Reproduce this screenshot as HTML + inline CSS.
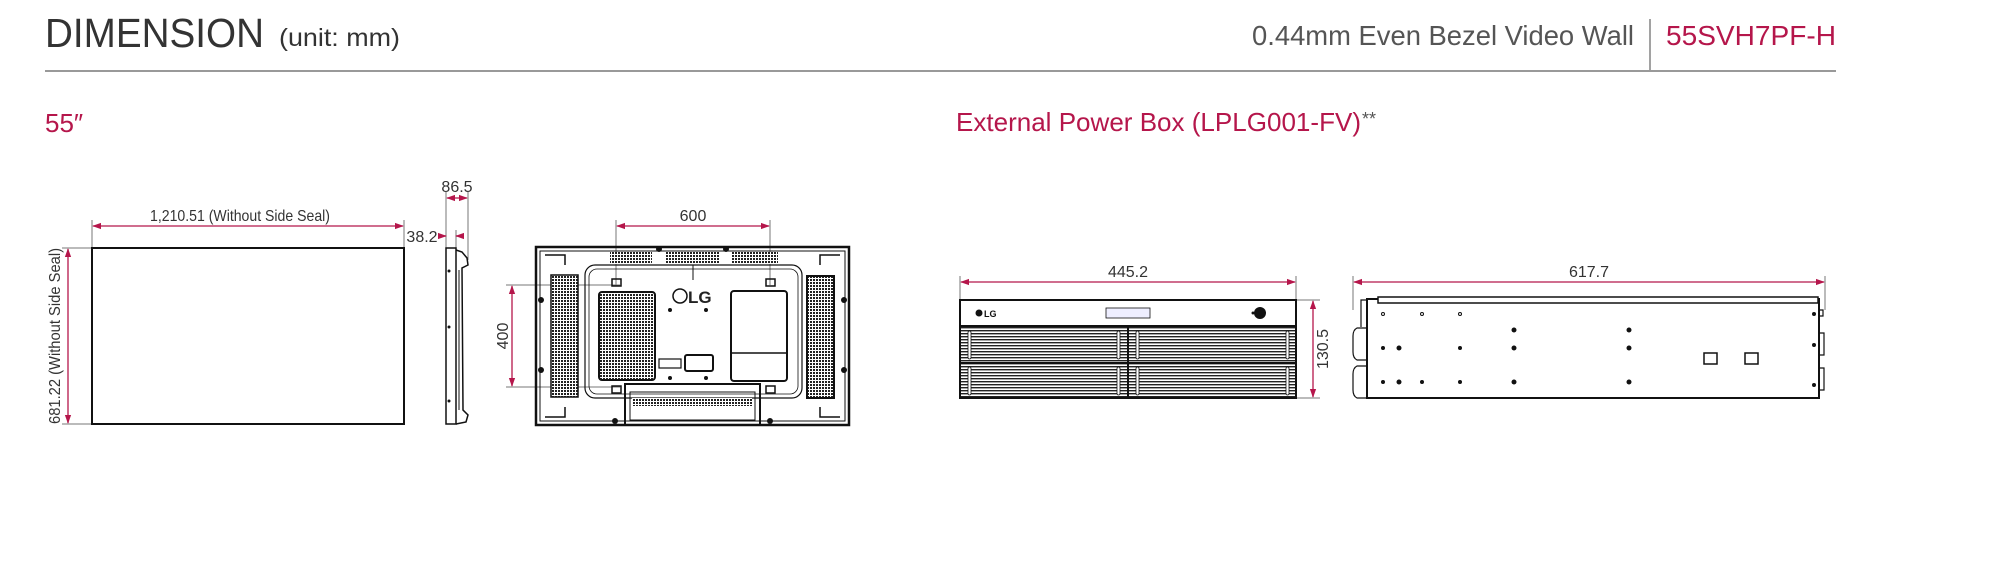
<!DOCTYPE html>
<html><head><meta charset="utf-8"><style>
html,body{margin:0;padding:0;background:#fff;}
svg{display:block;}
text{font-family:"Liberation Sans",sans-serif;}
</style></head><body>
<svg width="1990" height="562" viewBox="0 0 1990 562" xmlns="http://www.w3.org/2000/svg">
<defs>
<marker id="a" viewBox="0 0 10 10" refX="9" refY="5" markerWidth="7" markerHeight="7" orient="auto-start-reverse"><path d="M0,1.5 L10,5 L0,8.5 z" fill="#b5164b"/></marker>
<pattern id="h" width="3" height="3" patternUnits="userSpaceOnUse"><rect width="3" height="3" fill="#fff"/><rect width="2" height="2" fill="#222"/></pattern>
<pattern id="g" width="4" height="3" patternUnits="userSpaceOnUse"><rect width="4" height="3" fill="#fff"/><rect width="4" height="1.4" fill="#222"/></pattern>
</defs>

<!-- Header -->
<text x="45" y="47" font-size="41" fill="#333" textLength="219" lengthAdjust="spacingAndGlyphs">DIMENSION</text>
<text x="279" y="46" font-size="25" fill="#333" textLength="121" lengthAdjust="spacingAndGlyphs">(unit: mm)</text>
<text x="1252" y="45" font-size="28" fill="#555" textLength="382" lengthAdjust="spacingAndGlyphs">0.44mm Even Bezel Video Wall</text>
<line x1="1650" y1="19" x2="1650" y2="71" stroke="#444" stroke-width="1"/>
<text x="1666" y="45" font-size="28" fill="#b5164b" textLength="170" lengthAdjust="spacingAndGlyphs">55SVH7PF-H</text>
<line x1="45" y1="71" x2="1836" y2="71" stroke="#999" stroke-width="2"/>

<text x="45" y="132" font-size="26" fill="#b5164b">55″</text>
<text x="956" y="131" font-size="26" fill="#b5164b" textLength="405" lengthAdjust="spacingAndGlyphs">External Power Box (LPLG001-FV)</text>
<text x="1362" y="125" font-size="18" fill="#555">**</text>

<g stroke="#777" stroke-width="1" fill="none">
<line x1="92" y1="220" x2="92" y2="248"/><line x1="404" y1="220" x2="404" y2="248"/>
<line x1="62" y1="248" x2="92" y2="248"/><line x1="62" y1="424" x2="92" y2="424"/>
<line x1="446" y1="192" x2="446" y2="248"/><line x1="468" y1="192" x2="468" y2="260"/><line x1="456" y1="230" x2="456" y2="248"/>
<line x1="616" y1="220" x2="616" y2="285"/><line x1="770" y1="220" x2="770" y2="285"/>
<line x1="506" y1="285" x2="620" y2="285"/><line x1="506" y1="387" x2="620" y2="387"/>
<line x1="960" y1="276" x2="960" y2="300"/><line x1="1296" y1="276" x2="1296" y2="300"/>
<line x1="1296" y1="300" x2="1320" y2="300"/><line x1="1296" y1="398" x2="1320" y2="398"/>
<line x1="1353" y1="276" x2="1353" y2="310"/><line x1="1825" y1="276" x2="1825" y2="310"/>
</g>

<g stroke="#b5164b" stroke-width="1.3" fill="none" marker-start="url(#a)" marker-end="url(#a)">
<line x1="93" y1="226" x2="403" y2="226"/>
<line x1="68" y1="249" x2="68" y2="423"/>
<line x1="447" y1="198" x2="467" y2="198"/>
<line x1="617" y1="226" x2="769" y2="226"/>
<line x1="512" y1="286" x2="512" y2="386"/>
<line x1="961" y1="282" x2="1295" y2="282"/>
<line x1="1313" y1="301" x2="1313" y2="397"/>
<line x1="1354" y1="282" x2="1824" y2="282"/>
</g>
<g stroke="#b5164b" stroke-width="1.3">
<line x1="438" y1="236" x2="446" y2="236" marker-end="url(#a)"/>
<line x1="464" y1="236" x2="456" y2="236" marker-end="url(#a)"/>
</g>

<g fill="#333" font-size="16" text-anchor="middle">
<text x="240" y="221" textLength="180" lengthAdjust="spacingAndGlyphs">1,210.51 (Without Side Seal)</text>
<text x="457" y="192">86.5</text>
<text x="422" y="242">38.2</text>
<text x="693" y="221">600</text>
<text x="1128" y="277">445.2</text>
<text x="1589" y="277">617.7</text>
<text transform="translate(60,336) rotate(-90)" textLength="176" lengthAdjust="spacingAndGlyphs">681.22 (Without Side Seal)</text>
<text transform="translate(508,336) rotate(-90)">400</text>
<text transform="translate(1328,349) rotate(-90)">130.5</text>
</g>

<rect x="92" y="248" width="312" height="176" fill="#fff" stroke="#111" stroke-width="2"/>

<rect x="446" y="248" width="10" height="176" fill="#fff" stroke="#111" stroke-width="1.5"/>
<path d="M456,250 L462,252 L467,258 L468,265 L462,268 L463,410 L468,415 L466,422 L456,424" fill="none" stroke="#111" stroke-width="1.5"/>
<line x1="459" y1="270" x2="459" y2="410" stroke="#111" stroke-width="1"/>
<circle cx="449" cy="271" r="1.5" fill="#111"/><circle cx="449" cy="327" r="1.5" fill="#111"/><circle cx="449" cy="401" r="1.5" fill="#111"/>

<g stroke="#111" fill="none">
<rect x="536" y="247" width="313" height="178" stroke-width="2.5"/>
<rect x="540" y="251" width="305" height="170" stroke-width="1"/>
<rect x="585" y="265" width="217" height="133" rx="10" stroke-width="1.2"/>
<rect x="589" y="269" width="209" height="125" rx="8" stroke-width="0.8"/>
<rect x="731" y="291" width="56" height="90" rx="3" stroke-width="2"/>
<line x1="731" y1="353" x2="787" y2="353" stroke-width="1.5"/>
<rect x="625" y="384" width="135" height="41" stroke-width="2"/>
<rect x="630" y="392" width="125" height="28" stroke-width="1"/>
<rect x="659" y="359" width="22" height="9" stroke-width="1.2"/>
<rect x="685" y="355" width="28" height="16" rx="2" stroke-width="2"/>
<rect x="612" y="279" width="9" height="7" stroke-width="1.5"/>
<rect x="766" y="279" width="9" height="7" stroke-width="1.5"/>
<rect x="612" y="386" width="9" height="7" stroke-width="1.5"/>
<rect x="766" y="386" width="9" height="7" stroke-width="1.5"/>
<line x1="693" y1="265" x2="693" y2="280" stroke-width="1"/>
<circle cx="680" cy="296" r="7" stroke-width="1.5"/>
<path d="M545,255 h20 v10 M840,255 h-20 v10 M545,417 h20 v-10 M840,417 h-20 v-10" stroke-width="1.5"/>
</g>
<rect x="610" y="252" width="42" height="12" fill="url(#h)"/>
<rect x="665" y="252" width="55" height="12" fill="url(#h)"/>
<rect x="732" y="252" width="46" height="12" fill="url(#h)"/>
<rect x="551" y="275" width="27" height="122" fill="url(#h)" stroke="#111" stroke-width="1.5"/>
<rect x="599" y="292" width="56" height="88" rx="3" fill="url(#h)" stroke="#111" stroke-width="2"/>
<rect x="807" y="276" width="27" height="122" fill="url(#h)" stroke="#111" stroke-width="2"/>
<rect x="632" y="398" width="120" height="8" fill="url(#h)"/>
<text x="688" y="303" font-size="17" fill="#222" font-weight="bold">LG</text>
<g fill="#111"><circle cx="670" cy="310" r="2"/><circle cx="706" cy="310" r="2"/><circle cx="670" cy="378" r="2"/><circle cx="706" cy="378" r="2"/>
<circle cx="541" cy="300" r="3"/><circle cx="541" cy="370" r="3"/><circle cx="844" cy="300" r="3"/><circle cx="844" cy="370" r="3"/>
<circle cx="659" cy="249" r="3"/><circle cx="726" cy="249" r="3"/><circle cx="615" cy="421" r="3"/><circle cx="770" cy="421" r="3"/></g>

<!-- power box front -->
<rect x="960" y="300" width="336" height="98" fill="#fff" stroke="#111" stroke-width="2"/>
<rect x="961" y="326" width="334" height="71" fill="url(#g)"/>
<line x1="960" y1="326" x2="1296" y2="326" stroke="#111" stroke-width="2"/>
<line x1="960" y1="363" x2="1296" y2="363" stroke="#111" stroke-width="2"/>
<line x1="1128" y1="326" x2="1128" y2="398" stroke="#111" stroke-width="2"/>
<g fill="#fff" stroke="#111" stroke-width="0.8">
<rect x="968" y="331" width="3" height="28" rx="1.5"/><rect x="1117" y="331" width="3" height="28" rx="1.5"/>
<rect x="1136" y="331" width="3" height="28" rx="1.5"/><rect x="1286" y="331" width="3" height="28" rx="1.5"/>
<rect x="968" y="367" width="3" height="28" rx="1.5"/><rect x="1117" y="367" width="3" height="28" rx="1.5"/>
<rect x="1136" y="367" width="3" height="28" rx="1.5"/><rect x="1286" y="367" width="3" height="28" rx="1.5"/>
<rect x="1106" y="308" width="44" height="10" fill="#eef"/>
</g>
<g fill="#111"><circle cx="1260" cy="313" r="6"/><circle cx="1253" cy="313" r="1.5"/><circle cx="979" cy="313" r="3.5"/></g>
<text x="984" y="317" font-size="9" font-weight="bold" fill="#111">LG</text>

<!-- power box side -->
<rect x="1367" y="299" width="452" height="99" fill="#fff" stroke="#111" stroke-width="2"/>
<rect x="1378" y="297" width="440" height="6" fill="#fff" stroke="#111" stroke-width="1.5"/>
<path d="M1367,300 h-6 v27 M1367,328 h-10 q-4,2 -4,8 v16 q0,6 4,8 h10 M1367,366 h-10 q-4,2 -4,8 v16 q0,6 4,8 h10" fill="none" stroke="#111" stroke-width="1.2"/>
<path d="M1819,310 h4 v6 h-4 M1819,333 h5 v22 h-5 M1819,368 h5 v22 h-5" fill="none" stroke="#111" stroke-width="1.2"/>
<g fill="none" stroke="#111" stroke-width="1"><circle cx="1383" cy="314" r="1.5"/><circle cx="1422" cy="314" r="1.5"/><circle cx="1460" cy="314" r="1.5"/></g>
<g fill="#111">
<circle cx="1514" cy="330" r="2.5"/><circle cx="1629" cy="330" r="2.5"/>
<circle cx="1383" cy="348" r="2"/><circle cx="1399" cy="348" r="2.5"/><circle cx="1460" cy="348" r="2"/><circle cx="1514" cy="348" r="2.5"/><circle cx="1629" cy="348" r="2.5"/>
<circle cx="1383" cy="382" r="2"/><circle cx="1399" cy="382" r="2.5"/><circle cx="1422" cy="382" r="2"/><circle cx="1460" cy="382" r="2"/><circle cx="1514" cy="382" r="2.5"/><circle cx="1629" cy="382" r="2.5"/>
<circle cx="1814" cy="314" r="2"/><circle cx="1814" cy="345" r="2"/><circle cx="1814" cy="385" r="2"/>
</g>
<g fill="#fff" stroke="#111" stroke-width="1.5"><rect x="1704" y="353" width="13" height="11"/><rect x="1745" y="353" width="13" height="11"/></g>
</svg>
</body></html>
